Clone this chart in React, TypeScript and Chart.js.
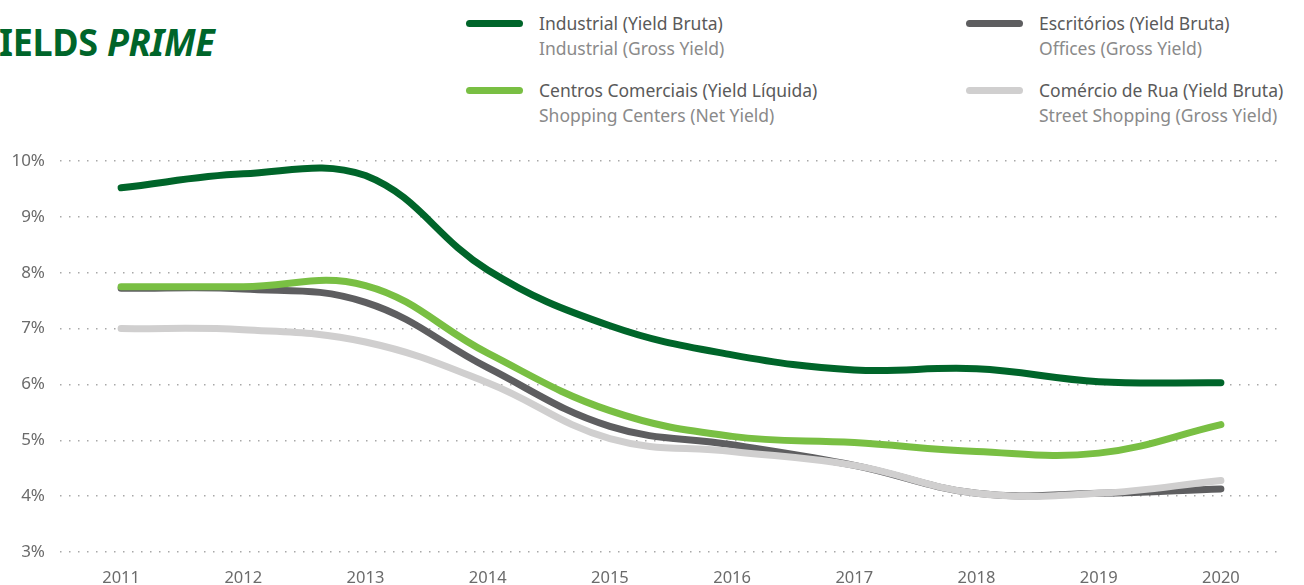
import React, { useEffect, useRef } from "react";
import { Chart, registerables } from "chart.js";

Chart.register(...registerables);

const years = ["2011", "2012", "2013", "2014", "2015", "2016", "2017", "2018", "2019", "2020"];
const industrial = [9.52, 9.77, 9.74, 8.05, 7.05, 6.53, 6.26, 6.28, 6.05, 6.03];
const centrosComerciais = [7.75, 7.75, 7.77, 6.56, 5.53, 5.07, 4.96, 4.8, 4.77, 5.28];
const escritorios = [7.72, 7.71, 7.47, 6.3, 5.25, 4.92, 4.55, 4.05, 4.05, 4.13];
const comercioRua = [7.0, 6.98, 6.76, 6.03, 5.03, 4.8, 4.55, 4.05, 4.05, 4.28];
const yTicks = [3, 4, 5, 6, 7, 8, 9, 10];

const C_IND = "#00652a";
const C_CC = "#79bf43";
const C_ESC = "#5e5e60";
const C_RUA = "#d0cfcf";

const legendItems = [
  { color: C_IND, a: "Industrial (Yield Bruta)", b: "Industrial (Gross Yield)", x: 466, y: 11 },
  { color: C_ESC, a: "Escritórios (Yield Bruta)", b: "Offices (Gross Yield)", x: 966, y: 11 },
  { color: C_CC, a: "Centros Comerciais (Yield Líquida)", b: "Shopping Centers (Net Yield)", x: 466, y: 78 },
  { color: C_RUA, a: "Comércio de Rua (Yield Bruta)", b: "Street Shopping (Gross Yield)", x: 966, y: 78 },
];

const FONT = "'Noto Sans', 'Open Sans', sans-serif";

export default function App() {
  const ref = useRef<HTMLCanvasElement>(null);
  useEffect(() => {
    document.body.style.margin = "0";
    const ds = (label: string, data: number[], color: string, order: number) => ({
      label,
      data,
      borderColor: color,
      backgroundColor: color,
      borderWidth: 7,
      borderCapStyle: "round" as const,
      borderJoinStyle: "round" as const,
      pointRadius: 0,
      tension: 0.4,
      order,
    });
    const chart = new Chart(ref.current!, {
      type: "line",
      data: {
        labels: years,
        datasets: [
          ds("Industrial", industrial, C_IND, 1),
          ds("Centros Comerciais", centrosComerciais, C_CC, 2),
          ds("Escritórios", escritorios, C_ESC, 4),
          ds("Comércio de Rua", comercioRua, C_RUA, 3),
        ],
      },
      options: {
        responsive: false,
        animation: false,
        layout: { padding: { top: 161, left: 0, right: 22, bottom: 0 } },
        plugins: { legend: { display: false }, tooltip: { enabled: false } },
        scales: {
          x: {
            offset: true,
            grid: { display: false, drawTicks: false },
            border: { display: false },
            ticks: { padding: 16, color: "#6b6b6b", font: { family: FONT, size: 16.5 } },
            afterFit: (s: any) => { s.height = 33; },
          },
          y: {
            min: 3,
            max: 10,
            afterBuildTicks: (s: any) => { s.ticks = yTicks.map((v) => ({ value: v })); },
            grid: { color: "#a8a8a8", lineWidth: 1.5, drawTicks: false },
            border: { display: false, dash: [1.5, 7.5] },
            ticks: {
              padding: 15,
              color: "#6b6b6b",
              font: { family: FONT, size: 17 },
              callback: (v: any) => `${v}%`,
            },
            afterFit: (s: any) => { s.width = 60; },
          },
        },
      },
    });
    return () => chart.destroy();
  }, []);

  return (
    <div style={{ position: "fixed", left: 0, top: 0, width: 1304, height: 585, background: "#fff", overflow: "hidden", fontFamily: FONT }}>
      <div style={{ position: "absolute", right: 1304 - 215, top: 16, whiteSpace: "nowrap", textAlign: "right", color: "#00652a", fontWeight: 700, fontSize: 38, lineHeight: "50px", letterSpacing: -0.3, transform: "scaleX(0.945)", transformOrigin: "right center" }}>
        YIELDS <span style={{ fontStyle: "italic" }}>PRIME</span>
      </div>
      {legendItems.map((it) => (
        <div key={it.a} style={{ position: "absolute", left: it.x, top: it.y, whiteSpace: "nowrap" }}>
          <div style={{ position: "absolute", left: 0, top: 9, width: 57, height: 7, borderRadius: 4, background: it.color }} />
          <div style={{ position: "absolute", left: 73, top: 0, fontSize: 17.5, lineHeight: "24px", color: "#5a5a5a" }}>{it.a}</div>
          <div style={{ position: "absolute", left: 73, top: 25, fontSize: 17.5, lineHeight: "24px", color: "#8a8a8a" }}>{it.b}</div>
        </div>
      ))}
      <canvas ref={ref} width={1304} height={585} style={{ position: "absolute", left: 0, top: 0 }} />
    </div>
  );
}
